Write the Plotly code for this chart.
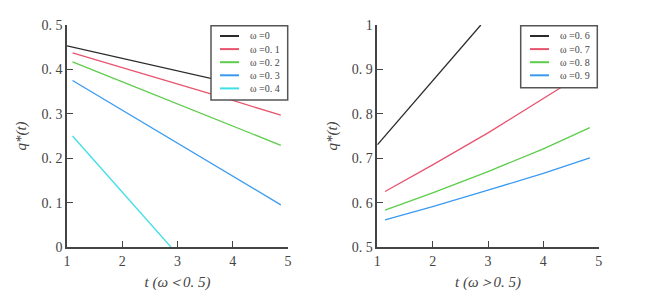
import plotly.graph_objects as go

# ---- data ----
names_left = ["ω =0", "ω =0. 1", "ω =0. 2", "ω =0. 3", "ω =0. 4"]
t_left = [
    [1.0, 2.0, 3.0, 4.0, 4.87],
    [1.10, 2.0, 3.0, 4.0, 4.87],
    [1.10, 2.0, 3.0, 4.0, 4.87],
    [1.10, 2.0, 3.0, 4.0, 4.87],
    [1.10, 1.6, 2.0, 2.5, 2.88],
]
q_left = [
    [0.453, 0.425, 0.397, 0.369, 0.344],
    [0.437, 0.404, 0.367, 0.330, 0.297],
    [0.417, 0.372, 0.322, 0.272, 0.229],
    [0.375, 0.308, 0.234, 0.160, 0.095],
    [0.250, 0.180, 0.124, 0.053, 0.0],
]
names_right = ["ω =0. 6", "ω =0. 7", "ω =0. 8", "ω =0. 9"]
t_right = [
    [1.0, 1.5, 2.0, 2.5, 2.87],
    [1.14, 2.0, 3.0, 4.0, 4.87],
    [1.14, 2.0, 3.0, 4.0, 4.84],
    [1.14, 2.0, 3.0, 4.0, 4.84],
]
q_right = [
    [0.730, 0.802, 0.874, 0.946, 1.000],
    [0.625, 0.685, 0.757, 0.834, 0.902],
    [0.583, 0.622, 0.670, 0.721, 0.769],
    [0.561, 0.591, 0.628, 0.666, 0.701],
]
colors_left = ["#2a2a2a", "#e8546e", "#5ccc4a", "#3a9af0", "#3ee0e6"]
colors_right = ["#2a2a2a", "#e8546e", "#5ccc4a", "#3a9af0"]

x_ticks = [1, 2, 3, 4, 5]
x_ticktext = ["1", "2", "3", "4", "5"]
yl_ticks = [0, 0.1, 0.2, 0.3, 0.4, 0.5]
yl_text = ["0", "0. 1", "0. 2", "0. 3", "0. 4", "0. 5"]
yr_ticks = [0.5, 0.6, 0.7, 0.8, 0.9, 1.0]
yr_text = ["0. 5", "0. 6", "0. 7", "0. 8", "0. 9", "1"]

FONT = "Liberation Serif"
OFF = 8  # default page body margin
W, H = 648 - OFF, 298 - OFF


def px(x):
    return (x - OFF) / W


def py(y):
    return 1 - (y - OFF) / H


fig = go.Figure()

for name, xs, ys, c in zip(names_left, t_left, q_left, colors_left):
    fig.add_trace(go.Scatter(x=xs, y=ys, mode="lines", name=name, showlegend=False,
                             line=dict(color=c, width=1.3), xaxis="x", yaxis="y"))
for name, xs, ys, c in zip(names_right, t_right, q_right, colors_right):
    fig.add_trace(go.Scatter(x=xs, y=ys, mode="lines", name=name, showlegend=False,
                             line=dict(color=c, width=1.3), xaxis="x2", yaxis="y2"))

axis_common = dict(showline=True, linecolor="#444", linewidth=1.5, ticks="inside",
                   ticklen=6, tickwidth=1.2, tickcolor="#444", showgrid=False,
                   zeroline=False, mirror=False, automargin=False,
                   tickfont=dict(family=FONT, size=14, color="#444"))
title_font = dict(family=FONT, size=15, color="#444")

fig.update_layout(
    width=W, height=H,
    margin=dict(l=0, r=0, t=0, b=0),
    paper_bgcolor="white", plot_bgcolor="white",
    showlegend=False,
    xaxis=dict(domain=[px(67), px(288)], range=[1, 5], tickvals=x_ticks, ticktext=x_ticktext,
               anchor="y", title=dict(text="<i>t (ω＜0. 5)</i>", font=title_font, standoff=9),
               **axis_common),
    yaxis=dict(domain=[py(247), py(25)], range=[0, 0.5], tickvals=yl_ticks,
               ticktext=yl_text, anchor="x",
               title=dict(text="<i>q*(t)</i>", font=title_font, standoff=11), **axis_common),
    xaxis2=dict(domain=[px(377.3), px(598.7)], range=[1, 5], tickvals=x_ticks,
                ticktext=x_ticktext, anchor="y2",
                title=dict(text="<i>t (ω＞0. 5)</i>", font=title_font, standoff=9),
                **axis_common),
    yaxis2=dict(domain=[py(247), py(25)], range=[0.5, 1], tickvals=yr_ticks,
                ticktext=yr_text, anchor="x2",
                title=dict(text="<i>q*(t)</i>", font=title_font, standoff=11), **axis_common),
)


def add_legend(box, sample_x0, sample_x1, text_x, y0, dy, names, colors):
    x0, y0b, x1, y1b = box
    fig.add_shape(type="rect", xref="paper", yref="paper",
                  x0=px(x0), x1=px(x1), y0=py(y0b), y1=py(y1b),
                  line=dict(color="#555", width=1.5), fillcolor="white", layer="above")
    for i, (n, c) in enumerate(zip(names, colors)):
        yy = py(y0 + i * dy)
        fig.add_shape(type="line", xref="paper", yref="paper",
                      x0=px(sample_x0), x1=px(sample_x1), y0=yy, y1=yy,
                      line=dict(color=c, width=2), layer="above")
        fig.add_annotation(xref="paper", yref="paper", x=px(text_x), y=yy, text=n,
                           showarrow=False, xanchor="left", yanchor="middle",
                           font=dict(family=FONT, size=10, color="#444"))


add_legend((211, 25.7, 287.7, 100), 220, 239, 248, 36, 13.1, names_left, colors_left)
add_legend((520.7, 25.7, 597.3, 87.7), 530, 549, 558, 36, 13.1, names_right, colors_right)

fig.write_html("out.html")
